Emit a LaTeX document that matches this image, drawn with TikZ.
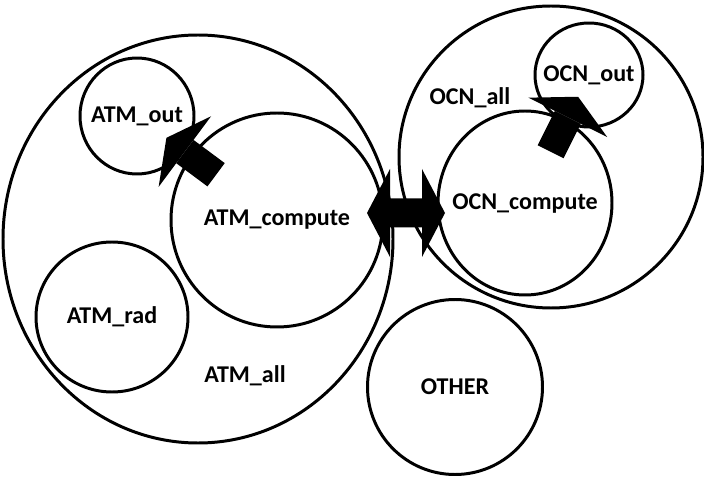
\documentclass[tikz,border=0pt]{standalone}
\usepackage{fontspec}
\setmainfont{Carlito}
\usepackage{tikz}
\usetikzlibrary{calc,shapes.geometric,arrows.meta}

\begin{document}
\begin{tikzpicture}
                [every text node part/.style={align=center},
                every node/.style={font=\bfseries\fontsize{13.7}{16}\selectfont},
                csty/.style={ellipse, draw=black, line width=1.7pt, inner sep=0pt, outer sep=0pt},
                asty/.style={line width=0.58cm, >={Triangle[length=0.46cm, width=1.76cm, line width=0pt]}, ->}]
                \useasboundingbox (0,0) rectangle (14.08,9.52);
                % atmosphere
                \node[csty, minimum width=7.80cm, minimum height=8.16cm] (atma) at (3.96,4.74) {};
                \node (atmal) at (4.90,2.00) {ATM\_all};
                \node[csty, minimum width=2.28cm, minimum height=2.32cm, label=center:{ATM\_out}] (atmo) at (2.74,7.20) {};
                \node[csty, minimum width=4.24cm, minimum height=4.28cm, label=center:{ATM\_compute}] (atmc) at (5.54,5.12) {};
                \node[csty, minimum width=3.04cm, minimum height=3.00cm, label=center:{ATM\_rad}] (atmr) at (2.24,3.18) {};
                % ocean
                \node[csty, minimum width=6.08cm, minimum height=6.04cm] (ocna) at (11.02,6.38) {};
                \node (ocnal) at (9.40,7.56) {OCN\_all};
                \node[csty, minimum width=2.16cm, minimum height=2.08cm, label=center:{OCN\_out}] (ocno) at (11.78,8.02) {};
                \node[csty, minimum width=3.48cm, minimum height=3.68cm, label=center:{OCN\_compute}] (ocnc) at (10.50,5.46) {};
                % the rest
                \node[csty, minimum width=3.50cm, minimum height=3.50cm, label=center:{OTHER}] (oth) at (9.10,1.78) {};
                % exchanges
                \draw[asty] ($(atmc)!0.435!(atmo)$) -- ($(atmc)!0.79!(atmo)$);
                \draw[asty] ($(ocnc)!0.40!(ocno)$) -- ($(ocnc)!0.83!(ocno)$);
                \draw[asty, <->] ($(atmc.east)+(-0.32,0.14)$) -- ($(ocnc.west)+(0.14,-0.20)$);
            \end{tikzpicture}
\end{document}
